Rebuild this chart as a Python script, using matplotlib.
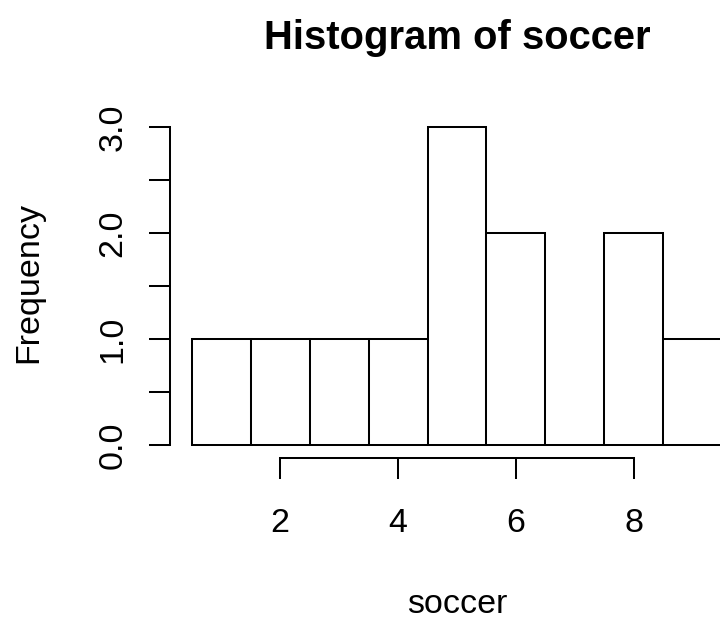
import matplotlib.pyplot as plt

plt.rcParams['font.family'] = ['Liberation Sans', 'DejaVu Sans']

# histogram of soccer: bins of width 1 centred on the integers
bin_centers = [1, 2, 3, 4, 5, 6, 7, 8, 9]
counts = [1, 1, 1, 1, 3, 2, 0, 2, 1]
x_ticks = [2, 4, 6, 8]
y_ticks = [0, 0.5, 1, 1.5, 2, 2.5, 3]
y_tick_labels = ['0.0', '', '1.0', '', '2.0', '', '3.0']

W, H = 720, 623
fig = plt.figure(figsize=(W / 100, H / 100), dpi=100)
left, right, bottom, top = 170.3, 743.7, 457.7, 114.3
ax = fig.add_axes([left / W, (H - bottom) / H, (right - left) / W, (bottom - top) / H])

lw = 1.45
ax.bar(bin_centers, counts, width=1.0, color='white', edgecolor='black', linewidth=lw)

ax.set_xlim(0.14, 9.86)
ax.set_ylim(-0.12, 3.12)

for s in ['top', 'right']:
    ax.spines[s].set_visible(False)
ax.spines['left'].set_bounds(0, 3)
ax.spines['bottom'].set_bounds(2, 8)
for s in ['left', 'bottom']:
    ax.spines[s].set_linewidth(lw)

ax.set_xticks(x_ticks)
ax.set_xticklabels([str(t) for t in x_ticks])
ax.set_yticks(y_ticks)
ax.set_yticklabels(y_tick_labels)
ax.tick_params(length=15, width=lw, labelsize=24.5, direction='out')
ax.tick_params(axis='x', pad=21)
ax.tick_params(axis='y', pad=15)
for lbl in ax.get_yticklabels():
    lbl.set_rotation(90)
    lbl.set_va('center')

cx = (left + right) / 2
fig.text(cx / W, (H - 49) / H, 'Histogram of soccer', ha='center', va='baseline',
         fontsize=28.8, fontweight='bold')
fig.text(cx / W, (H - 613) / H, 'soccer', ha='center', va='baseline', fontsize=24.5)
fig.text(37 / W, (H - 283) / H, 'Frequency', ha='center', va='baseline',
         rotation=90, rotation_mode='anchor', fontsize=24.5)

plt.savefig('out.png', dpi=100)
